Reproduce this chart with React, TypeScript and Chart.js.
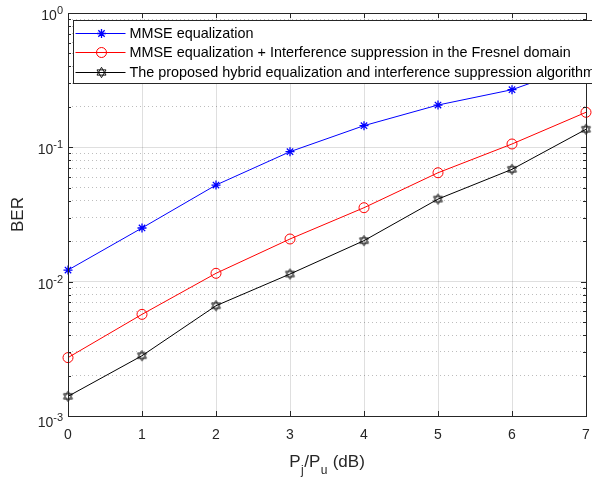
import React, { useEffect, useRef } from "react";
import { Chart, registerables } from "chart.js";

Chart.register(...registerables);

// ---- data ----
const xValues = [0, 1, 2, 3, 4, 5, 6, 7];
const mmseBer = [0.0122, 0.0251, 0.0524, 0.0928, 0.145, 0.2065, 0.2686, 0.42];
const mmseFresnelBer = [0.00272, 0.00571, 0.01154, 0.02078, 0.03553, 0.0647, 0.1059, 0.1823];
const proposedBer = [0.0014, 0.00281, 0.00662, 0.0114, 0.0202, 0.0412, 0.0686, 0.1362];
const seriesLabels = [
  "MMSE equalization",
  "MMSE equalization + Interference suppression in the Fresnel domain",
  "The proposed hybrid equalization and interference suppression algorithm",
];
const seriesColors = ["#0000ff", "#ff0000", "#000000"];
const xTickLabels = ["0", "1", "2", "3", "4", "5", "6", "7"];
const yDecades = [-3, -2, -1, 0];
const yAxisTitle = "BER";
const xAxisTitleParts = [
  { text: "P", sub: false },
  { text: "j", sub: true },
  { text: "/P", sub: false },
  { text: "u", sub: true },
  { text: " (dB)", sub: false },
];

const FONT = "'Liberation Sans', Arial, Helvetica, sans-serif";
const AXIS_COLOR = "#262626";

function makeHexagram(color: string): HTMLCanvasElement {
  const size = 13;
  const c = document.createElement("canvas");
  c.width = size;
  c.height = size;
  const ctx = c.getContext("2d")!;
  const r = 5.2;
  const cx = size / 2;
  const cy = size / 2;
  ctx.strokeStyle = color;
  ctx.lineWidth = 0.9;
  for (const off of [-Math.PI / 2, Math.PI / 2]) {
    ctx.beginPath();
    for (let i = 0; i < 3; i++) {
      const a = off + (i * 2 * Math.PI) / 3;
      const px = cx + r * Math.cos(a);
      const py = cy + r * Math.sin(a);
      if (i === 0) ctx.moveTo(px, py);
      else ctx.lineTo(px, py);
    }
    ctx.closePath();
    ctx.stroke();
  }
  return c;
}

function isDecade(v: number) {
  const l = Math.log10(v);
  return Math.abs(l - Math.round(l)) < 1e-9;
}

function yTickValues(): number[] {
  const vals: number[] = [];
  for (let k = yDecades[0]; k < yDecades[yDecades.length - 1]; k++) {
    for (let m = 1; m <= 9; m++) vals.push(m * Math.pow(10, k));
  }
  vals.push(Math.pow(10, yDecades[yDecades.length - 1]));
  return vals;
}

export default function App() {
  const canvasRef = useRef<HTMLCanvasElement | null>(null);

  useEffect(() => {
    const canvas = canvasRef.current;
    if (!canvas) return;
    const hexagram = makeHexagram(seriesColors[2]);

    const drawMarker = (ctx: CanvasRenderingContext2D, idx: number, x: number, y: number) => {
      ctx.save();
      ctx.strokeStyle = seriesColors[idx];
      if (idx === 0) {
        const r = 4.5;
        ctx.lineWidth = 1.3;
        ctx.beginPath();
        ctx.moveTo(x - r, y);
        ctx.lineTo(x + r, y);
        ctx.moveTo(x, y - r);
        ctx.lineTo(x, y + r);
        const d = r * Math.SQRT1_2;
        ctx.moveTo(x - d, y - d);
        ctx.lineTo(x + d, y + d);
        ctx.moveTo(x - d, y + d);
        ctx.lineTo(x + d, y - d);
        ctx.stroke();
      } else if (idx === 1) {
        ctx.lineWidth = 1;
        ctx.beginPath();
        ctx.arc(x, y, 5, 0, Math.PI * 2);
        ctx.stroke();
      } else {
        ctx.drawImage(hexagram, x - hexagram.width / 2, y - hexagram.height / 2);
      }
      ctx.restore();
    };

    const matlabPlugin = {
      id: "matlabStyle",
      afterDatasetsDraw(chart: any) {
        const ctx: CanvasRenderingContext2D = chart.ctx;
        const { left, right, top, bottom } = chart.chartArea;
        const xs = chart.scales.x;
        const ys = chart.scales.y;
        ctx.save();
        ctx.strokeStyle = AXIS_COLOR;
        ctx.lineWidth = 1;
        // box
        ctx.strokeRect(Math.round(left) + 0.5, Math.round(top) + 0.5, Math.round(right - left), Math.round(bottom - top));
        // ticks
        ctx.beginPath();
        for (let i = 0; i < xValues.length; i++) {
          const px = Math.round(xs.getPixelForValue(xValues[i])) + 0.5;
          ctx.moveTo(px, bottom);
          ctx.lineTo(px, bottom - 5);
          ctx.moveTo(px, top);
          ctx.lineTo(px, top + 5);
        }
        for (const v of yTickValues()) {
          const py = Math.round(ys.getPixelForValue(v)) + 0.5;
          const len = isDecade(v) ? 5 : 3;
          ctx.moveTo(left, py);
          ctx.lineTo(left + len, py);
          ctx.moveTo(right, py);
          ctx.lineTo(right - len, py);
        }
        ctx.stroke();

        // x tick labels
        ctx.fillStyle = AXIS_COLOR;
        ctx.font = `14px ${FONT}`;
        ctx.textAlign = "center";
        ctx.textBaseline = "alphabetic";
        for (let i = 0; i < xTickLabels.length; i++) {
          const px = xs.getPixelForValue(xValues[i]);
          ctx.fillText(xTickLabels[i], px, bottom + 23);
        }

        // y tick labels 10^k
        ctx.textAlign = "left";
        for (const k of yDecades) {
          const py = ys.getPixelForValue(Math.pow(10, k));
          const base = "10";
          const exp = String(k);
          ctx.font = `11px ${FONT}`;
          const ew = ctx.measureText(exp).width;
          ctx.font = `14px ${FONT}`;
          const bw = ctx.measureText(base).width;
          const rightEdge = left - 5;
          const baseY = py + (k === yDecades[0] ? 11 : 7);
          ctx.fillText(base, rightEdge - ew - bw, baseY);
          ctx.font = `11px ${FONT}`;
          ctx.fillText(exp, rightEdge - ew, baseY - 6);
        }

        // y title
        ctx.save();
        ctx.font = `17px ${FONT}`;
        ctx.textAlign = "center";
        ctx.textBaseline = "alphabetic";
        ctx.translate(23, (top + bottom) / 2);
        ctx.rotate(-Math.PI / 2);
        ctx.fillText(yAxisTitle, 0, 0);
        ctx.restore();

        // x title with subscripts
        const mainFont = `17px ${FONT}`;
        const subFont = `12px ${FONT}`;
        let total = 0;
        const widths: number[] = [];
        for (const p of xAxisTitleParts) {
          ctx.font = p.sub ? subFont : mainFont;
          const w = ctx.measureText(p.text).width + (p.sub ? 1 : 0);
          widths.push(w);
          total += w;
        }
        let cx = (left + right) / 2 - total / 2;
        const by = 467;
        ctx.textAlign = "left";
        xAxisTitleParts.forEach((p, i) => {
          ctx.font = p.sub ? subFont : mainFont;
          ctx.fillText(p.text, cx + (p.sub ? 0.5 : 0), p.sub ? by + 7 : by);
          cx += widths[i];
        });
        ctx.restore();
      },
      afterDraw(chart: any) {
        const ctx: CanvasRenderingContext2D = chart.ctx;
        const { left } = chart.chartArea;
        ctx.save();
        const bx = left + 5.5;
        const byTop = 20.5;
        const bh = 63;
        ctx.fillStyle = "#ffffff";
        ctx.fillRect(bx, byTop, 600, bh);
        ctx.strokeStyle = AXIS_COLOR;
        ctx.lineWidth = 1;
        ctx.strokeRect(bx, byTop, 600, bh);
        ctx.font = `14.4px ${FONT}`;
        ctx.textBaseline = "middle";
        ctx.textAlign = "left";
        for (let i = 0; i < seriesLabels.length; i++) {
          const ry = Math.round(32.5 + i * 19.7) + 0.5;
          ctx.strokeStyle = seriesColors[i];
          ctx.lineWidth = 1;
          ctx.beginPath();
          ctx.moveTo(bx + 2, ry);
          ctx.lineTo(bx + 52, ry);
          ctx.stroke();
          drawMarker(ctx, i, Math.round(bx + 27) + 0.5, ry);
          ctx.fillStyle = "#000000";
          ctx.fillText(seriesLabels[i], bx + 56, ry + 0.5);
        }
        ctx.restore();
      },
    };

    const chart = new Chart(canvas, {
      type: "line",
      data: {
        labels: xValues,
        datasets: [
          {
            label: seriesLabels[0],
            data: xValues.map((x, i) => ({ x, y: mmseBer[i] })),
            borderColor: seriesColors[0],
            backgroundColor: seriesColors[0],
            borderWidth: 1,
            pointStyle: "star",
            pointRadius: 4.5,
            pointBorderWidth: 1.3,
            pointBorderColor: seriesColors[0],
            pointBackgroundColor: seriesColors[0],
            tension: 0,
            clip: false as any,
          },
          {
            label: seriesLabels[1],
            data: xValues.map((x, i) => ({ x, y: mmseFresnelBer[i] })),
            borderColor: seriesColors[1],
            backgroundColor: "rgba(0,0,0,0)",
            borderWidth: 1,
            pointStyle: "circle",
            pointRadius: 5,
            pointBorderWidth: 1,
            pointBorderColor: seriesColors[1],
            pointBackgroundColor: "rgba(0,0,0,0)",
            tension: 0,
            clip: false as any,
          },
          {
            label: seriesLabels[2],
            data: xValues.map((x, i) => ({ x, y: proposedBer[i] })),
            borderColor: seriesColors[2],
            backgroundColor: "rgba(0,0,0,0)",
            borderWidth: 1,
            pointStyle: hexagram as any,
            pointRadius: 5,
            pointBorderColor: seriesColors[2],
            tension: 0,
            clip: false as any,
          },
        ],
      },
      options: {
        responsive: false,
        animation: false,
        events: [],
        layout: { padding: { top: 13, right: 5, left: 0, bottom: 0 } },
        plugins: {
          legend: { display: false },
          tooltip: { enabled: false },
          title: { display: false },
        },
        scales: {
          x: {
            type: "linear",
            min: 0,
            max: 7,
            ticks: { display: false, stepSize: 1 },
            grid: {
              color: "rgba(38,38,38,0.15)",
              lineWidth: 1,
              drawTicks: false,
            },
            border: { display: false },
            afterFit: (scale: any) => {
              scale.height = 63;
            },
          },
          y: {
            type: "logarithmic",
            min: 1e-3,
            max: 1,
            ticks: { display: false },
            afterBuildTicks: (scale: any) => {
              scale.ticks = yTickValues().map((v) => ({ value: v }));
            },
            grid: {
              color: (c: any) => (isDecade(c.tick.value) ? "rgba(38,38,38,0.15)" : "rgba(38,38,38,0.3)"),
              lineWidth: 1,
              drawTicks: false,
            },
            border: {
              display: false,
              dash: (c: any) => (isDecade(c.tick.value) ? [] : [1, 3]),
            } as any,
            afterFit: (scale: any) => {
              scale.width = 68;
            },
          },
        },
      },
      plugins: [matlabPlugin],
    });

    return () => {
      chart.destroy();
    };
  }, []);

  return (
    <div style={{ position: "absolute", left: 0, top: 0, width: 592, height: 479, background: "#ffffff", overflow: "hidden" }}>
      <canvas ref={canvasRef} width={592} height={479} style={{ display: "block" }} />
    </div>
  );
}
